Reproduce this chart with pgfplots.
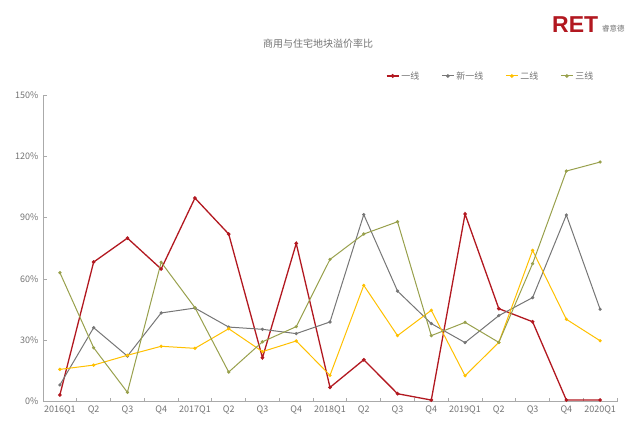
\documentclass[border=0pt]{standalone}
\usepackage{pgfplots}
\pgfplotsset{compat=1.18}
\usepackage{fontspec}
\setmainfont{Noto Sans CJK SC}
\newfontfamily\logofont{Liberation Sans}
\definecolor{cred}{RGB}{178,24,32}
\definecolor{cgray}{RGB}{118,118,118}
\definecolor{cyel}{RGB}{255,192,0}
\definecolor{colive}{RGB}{152,160,76}
\definecolor{txt}{RGB}{115,115,115}
\definecolor{axc}{RGB}{170,170,170}
\begin{document}
\begin{tikzpicture}
\begin{axis}[
  at={(43pt,41.3pt)}, anchor=south west,
  scale only axis, width=574pt, height=306.7pt,
  xmin=-0.5, xmax=16.5, ymin=0, ymax=150,
  axis x line=bottom, axis y line=left,
  axis line style={-, draw=axc, line width=0.9pt},
  xtick={-0.5,0.5,...,16.5},
  x tick label as interval,
  xticklabels={2016Q1,Q2,Q3,Q4,2017Q1,Q2,Q3,Q4,2018Q1,Q2,Q3,Q4,2019Q1,Q2,Q3,Q4,2020Q1},
  ytick={0,30,60,90,120,150},
  yticklabels={0\%,30\%,60\%,90\%,120\%,150\%},
  tick align=inside,
  major tick length=4pt,
  tick style={draw=axc, line width=0.8pt},
  ticklabel style={text=txt, font=\fontsize{9}{10}\selectfont},
  x tick label style={yshift=-1pt},
  y tick label style={xshift=-1pt},
  legend style={at={(0.78,1.062)}, anchor=center, draw=none, fill=none,
    legend columns=4, font=\fontsize{9}{10}\selectfont, text=txt,
    /tikz/every even column/.append style={column sep=20pt}},
  legend image code/.code={\draw[#1] (0pt,0pt) -- (12pt,0pt); \fill[#1] (6pt,0pt) circle (1.3pt);},
  every axis plot/.append style={mark=*, mark size=1.1pt},
  clip=false,
]
\addplot[cred, line width=1.3pt, mark options={fill=cred}] coordinates {
(0,3.3) (1,68.3) (2,80.0) (3,64.9) (4,99.6) (5,82.0) (6,21.5) (7,77.4)
(8,7.0) (9,20.5) (10,3.9) (11,0.8) (12,91.8) (13,45.5) (14,39.1) (15,0.8) (16,0.8)};
\addlegendentry{一线}
\addplot[cgray, line width=1pt, mark options={fill=cgray}] coordinates {
(0,8.2) (1,36.2) (2,22.3) (3,43.4) (4,45.8) (5,36.5) (6,35.4) (7,33.3)
(8,39.0) (9,91.5) (10,54.1) (11,38.2) (12,28.9) (13,42.1) (14,50.9) (15,91.3) (16,45.2)};
\addlegendentry{新一线}
\addplot[cyel, line width=1pt, mark options={fill=cyel}] coordinates {
(0,15.8) (1,17.9) (2,22.7) (3,27.1) (4,26.1) (5,35.7) (6,24.5) (7,29.7)
(8,12.9) (9,56.9) (10,32.3) (11,44.7) (12,12.7) (13,29.0) (14,74.0) (15,40.3) (16,29.8)};
\addlegendentry{二线}
\addplot[colive, line width=1pt, mark options={fill=colive}] coordinates {
(0,63.1) (1,26.4) (2,4.6) (3,68.2) (4,46.0) (5,14.5) (6,29.3) (7,36.7)
(8,69.6) (9,82.0) (10,88.0) (11,32.3) (12,38.8) (13,29.0) (14,67.5) (15,112.8) (16,117.2)};
\addlegendentry{三线}
\end{axis}
\node[text=txt,font=\fontsize{10}{12}\selectfont] at (318pt,399pt) {商用与住宅地块溢价率比};
\node[anchor=base west,text=cred,inner sep=0pt,font=\logofont\bfseries\fontsize{23}{24}\selectfont] at (552pt,410pt) {RET};
\node[anchor=base west,text=txt,inner sep=0pt,font=\fontsize{7.5}{8}\selectfont] at (602pt,411pt) {睿意德};
\pgfresetboundingbox
\useasboundingbox (0pt,0pt) rectangle (640pt,443pt);
\end{tikzpicture}
\end{document}
